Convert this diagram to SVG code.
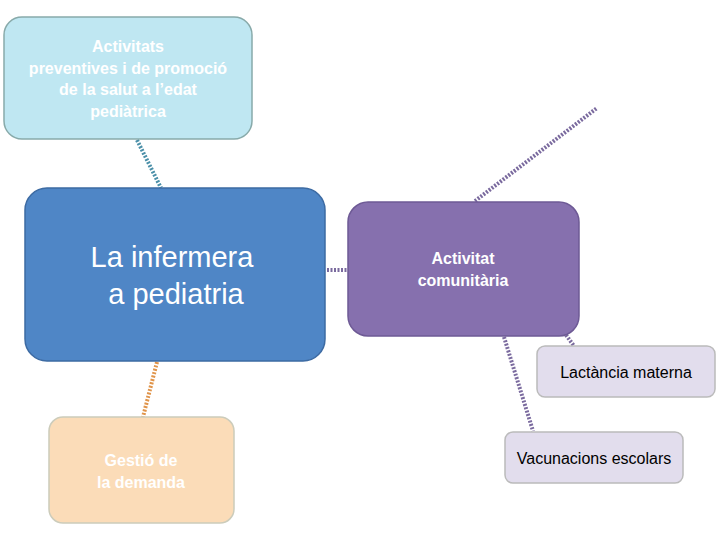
<svg xmlns="http://www.w3.org/2000/svg" width="720" height="540" viewBox="0 0 720 540">
<style>
.c{fill:none;stroke-width:4;stroke-dasharray:2 1.5}
.w{font-family:"Liberation Sans",Arial,sans-serif;fill:#fff;text-anchor:middle;font-weight:bold;font-size:16px}
.k{font-family:"Liberation Sans",Arial,sans-serif;fill:#000;text-anchor:middle;font-size:16px}
</style>
<rect width="720" height="540" fill="#fff"/>
<g id="connectors">
<line class="c" stroke="#4a8fa8" x1="137" y1="140" x2="161" y2="188"/>
<line class="c" stroke="#7a6a9e" x1="327" y1="270" x2="348" y2="270"/>
<line class="c" stroke="#7a6a9e" x1="475" y1="201" x2="597" y2="108"/>
<line class="c" stroke="#7a6a9e" x1="504" y1="337" x2="533" y2="431"/>
<line class="c" stroke="#7a6a9e" x1="566" y1="335" x2="574" y2="346"/>
<line class="c" stroke="#e0944a" x1="157" y1="362" x2="143" y2="417"/>
</g>
<g id="n1"><rect x="4" y="17" width="248" height="122" rx="18" fill="#bfe7f2" stroke="#8aa" stroke-width="1.5"/>
<text class="w" y="52"><tspan x="128">Activitats</tspan><tspan x="128" dy="21.5">preventives i de promoció</tspan><tspan x="128" dy="21.5">de la salut a l’edat</tspan><tspan x="128" dy="21.5">pediàtrica</tspan></text></g>
<g id="n2"><rect x="25" y="188" width="300" height="173" rx="22" fill="#4f86c6" stroke="#3d6ba3" stroke-width="1.5"/>
<text class="w" style="font-weight:normal;font-size:29px" y="267"><tspan x="172">La infermera</tspan><tspan x="176" dy="37">a pediatria</tspan></text></g>
<g id="n3"><rect x="348" y="202" width="231" height="134" rx="20" fill="#8670ae" stroke="#6e5a95" stroke-width="1.5"/>
<text class="w" y="264"><tspan x="463">Activitat</tspan><tspan x="463" dy="22">comunitària</tspan></text></g>
<g id="n4"><rect x="537" y="346" width="178" height="51" rx="8" fill="#e2dded" stroke="#bbb" stroke-width="1.5"/>
<text class="k" x="626" y="378">Lactància materna</text></g>
<g id="n5"><rect x="505" y="432" width="178" height="51" rx="8" fill="#e2dded" stroke="#bbb" stroke-width="1.5"/>
<text class="k" x="594" y="464">Vacunacions escolars</text></g>
<g id="n6"><rect x="49" y="417" width="185" height="106" rx="14" fill="#fbdcb8" stroke="#ccb" stroke-width="1.5"/>
<text class="w" y="466"><tspan x="141">Gestió de</tspan><tspan x="141" dy="22">la demanda</tspan></text></g>
</svg>
